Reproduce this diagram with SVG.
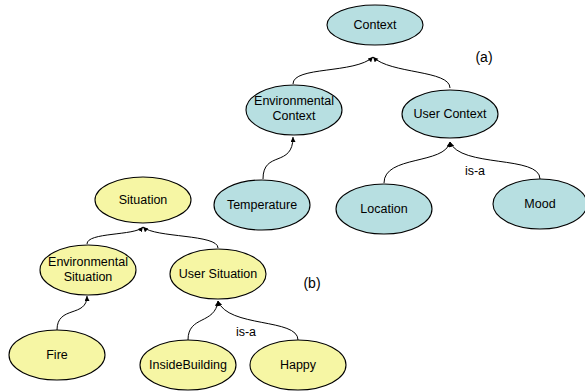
<svg xmlns="http://www.w3.org/2000/svg" width="585" height="392" viewBox="0 0 585 392">
<defs>
<marker id="ah" markerWidth="6" markerHeight="6" refX="5" refY="2.5" orient="auto" markerUnits="userSpaceOnUse">
<path d="M0,0 L5,2.5 L0,5 Z" fill="#000"/>
</marker>
<style>
.a{fill:#b7dfe1;stroke:#000;stroke-width:1.1}
.b{fill:#f6f6a4;stroke:#000;stroke-width:1.1}
text{font-family:"Liberation Sans",Arial,sans-serif;font-size:12.5px;fill:#000;text-anchor:middle}
.c path{fill:none;stroke:#000;stroke-width:1;marker-end:url(#ah)}
.lbl{font-size:14px}
</style>
</defs>
<rect width="585" height="392" fill="#fff"/>
<g class="c" id="connectors">
<path d="M293,84 C293,66 355,74 373,57"/>
<path d="M450,88 C450,70 390,74 373,57"/>
<path d="M263,179 C263,150 293,168 293,137"/>
<path d="M384,183 C384,155 445,165 450,142"/>
<path d="M540,179 C540,155 460,168 450,142"/>
<path d="M87,244 C87,232 135,236 143,227"/>
<path d="M218,248 C218,234 155,238 143,227"/>
<path d="M57,330 C57,305 87,318 87,296"/>
<path d="M188,340 C188,315 215,325 218,301"/>
<path d="M298,340 C298,318 228,328 218,301"/>
</g>
<g id="context"><ellipse class="a" cx="375" cy="25" rx="48" ry="20"/><text x="375" y="29">Context</text></g>
<g id="envcontext"><ellipse class="a" cx="294" cy="110" rx="48" ry="25"/><text x="294" y="105">Environmental</text><text x="294" y="120">Context</text></g>
<g id="usercontext"><ellipse class="a" cx="450" cy="114" rx="48" ry="24"/><text x="450" y="118">User Context</text></g>
<g id="temperature"><ellipse class="a" cx="262" cy="205" rx="48" ry="25"/><text x="262" y="209">Temperature</text></g>
<g id="location"><ellipse class="a" cx="384" cy="209" rx="48" ry="25"/><text x="384" y="213">Location</text></g>
<g id="mood"><ellipse class="a" cx="540" cy="204" rx="47" ry="25"/><text x="540" y="208">Mood</text></g>
<text x="475" y="175">is-a</text>
<text class="lbl" x="484" y="62">(a)</text>
<g id="situation"><ellipse class="b" cx="143" cy="200" rx="48" ry="23"/><text x="143" y="204">Situation</text></g>
<g id="envsituation"><ellipse class="b" cx="88" cy="270" rx="48" ry="25"/><text x="88" y="266">Environmental</text><text x="88" y="281">Situation</text></g>
<g id="usersituation"><ellipse class="b" cx="218" cy="274" rx="48" ry="25"/><text x="218" y="278">User Situation</text></g>
<g id="fire"><ellipse class="b" cx="57" cy="355" rx="48" ry="25"/><text x="57" y="359">Fire</text></g>
<g id="insidebuilding"><ellipse class="b" cx="188" cy="365" rx="48" ry="25"/><text x="188" y="369">InsideBuilding</text></g>
<g id="happy"><ellipse class="b" cx="298" cy="365" rx="48" ry="25"/><text x="298" y="369">Happy</text></g>
<text x="246" y="336">is-a</text>
<text class="lbl" x="312" y="288">(b)</text>
</svg>
